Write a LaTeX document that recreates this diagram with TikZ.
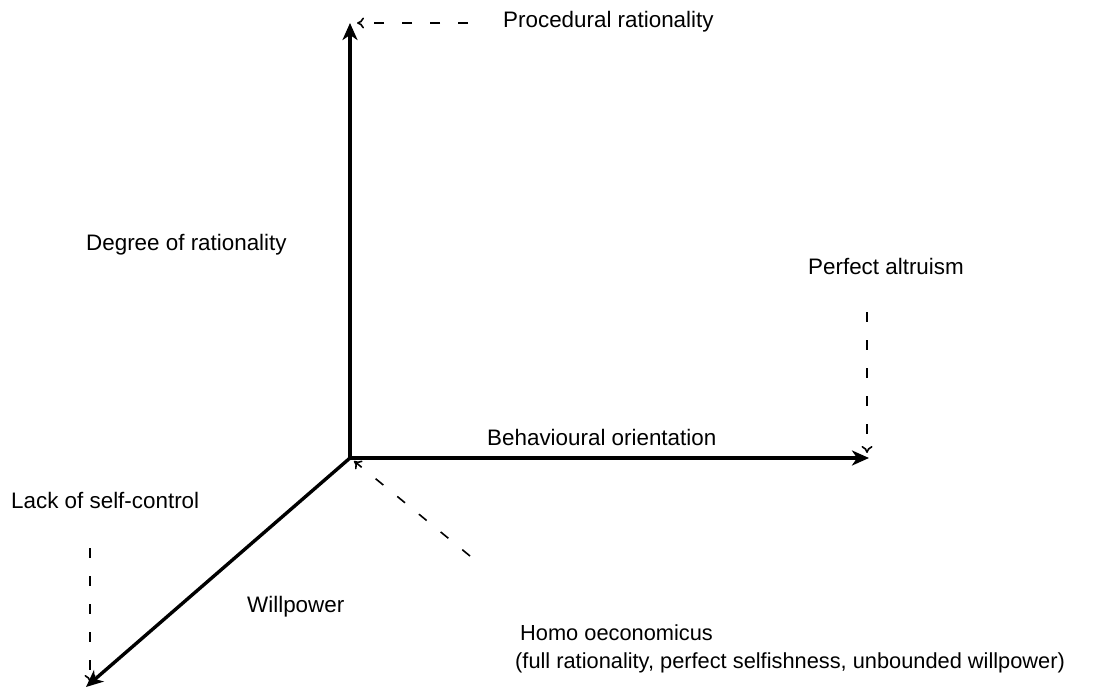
\documentclass[tikz,border=0pt]{standalone}
\usepackage{fontspec}
\setmainfont{Liberation Sans}
\usetikzlibrary{arrows.meta}
\begin{document}
\begin{tikzpicture}[x=1pt,y=-1pt,
  lbl/.style={inner sep=0pt,font=\fontsize{22.4}{28}\selectfont},
  axis/.style={line width=3.4pt,-{Stealth[length=17pt,width=15pt,inset=5pt]}},
  dash line/.style={line width=1.6pt,dash pattern=on 10pt off 18pt,-{To[length=7pt,width=11pt]}}]
\useasboundingbox (0,0) rectangle (1095,688);
\coordinate (O) at (350,458);
\coordinate (Ytop) at (350,23);
\coordinate (Xend) at (869,458);
\coordinate (Zend) at (86,687);
\coordinate (pS) at (468,23);
\coordinate (pE) at (357,23);
\coordinate (aS) at (867,312);
\coordinate (aE) at (867,453);
\coordinate (lS) at (90,548);
\coordinate (lE) at (90,682);
\coordinate (hS) at (470,556);
\coordinate (hE) at (354,461);
\draw[axis] (O) -- (Ytop);
\draw[axis] (O) -- (Xend);
\draw[axis] (O) -- (Zend);
\draw[dash line] (pS) -- (pE);
\draw[dash line] (aS) -- (aE);
\draw[dash line] (lS) -- (lE);
\draw[dash line] (hS) -- (hE);
\node[lbl,anchor=west] (proc) at (503,22) {Procedural rationality};
\node[lbl,anchor=west] (deg) at (86,245) {Degree of rationality};
\node[lbl,anchor=west] (alt) at (808,266) {Perfect altruism};
\node[lbl,anchor=west] (beh) at (487,437) {Behavioural orientation};
\node[lbl,anchor=west] (lack) at (11,500) {Lack of self-control};
\node[lbl,anchor=west] (will) at (247,607) {Willpower};
\node[lbl,anchor=north west,align=left,font=\fontsize{21.8}{28}\selectfont] (homo) at (515,624) {\hspace{5pt}Homo oeconomicus\\(full rationality, perfect selfishness, unbounded willpower)};
\end{tikzpicture}
\end{document}
